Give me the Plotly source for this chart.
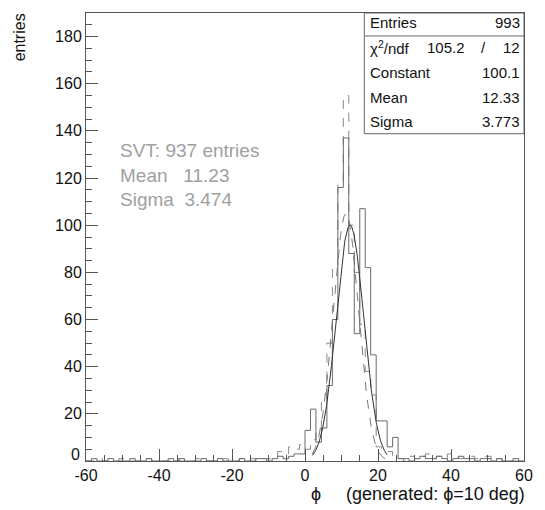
import numpy as np
import plotly.graph_objects as go

# ---------------- data ----------------
bin_lo, bin_hi, n_bins = -60.0, 60.0, 80
edges = np.linspace(bin_lo, bin_hi, n_bins + 1)

# all tracks (solid histogram), 80 bins of 1.5 deg
all_counts = (
    [0, 1, 0, 0, 1, 0, 0, 0, 1, 0, 0, 1, 0, 0, 0, 1, 0, 1, 0, 0, 0, 1, 0, 0, 1, 0, 0, 0, 1, 0, 0, 1]
    + [1, 0, 1, 2, 1, 2, 3, 3]
    + [13, 22, 8, 14, 32, 60, 116, 137, 88, 54, 107, 82, 45, 17, 17, 6, 10, 1]
    + [1, 0, 1, 2, 1, 1, 2, 1, 0, 1, 2, 1, 1, 0, 1, 1, 0, 1, 0, 0, 1, 0]
)
# SVT tracks (dashed histogram)
svt_counts = (
    [0, 0, 1, 0, 0, 0, 1, 0, 0, 0, 0, 1, 0, 0, 0, 0, 1, 0, 0, 0, 1, 0, 0, 0, 0, 1, 0, 0, 1, 0, 1, 0]
    + [1, 1, 2, 4, 3, 6, 5, 7]
    + [5, 9, 14, 26, 50, 82, 117, 155, 100, 80, 58, 38, 28, 6, 4, 4, 2]
    + [1, 0, 2, 1, 2, 3, 1, 2, 1, 3, 2, 1, 2, 2, 1, 1, 2, 0, 1, 0, 0, 0, 0]
)

fit_constant, fit_mean, fit_sigma = 100.1, 12.33, 3.773
svt_fit_constant, svt_mean, svt_sigma = 105.0, 11.23, 3.474
fit_range = (2.0, 22.5)

x_tickvals = [-60, -40, -20, 0, 20, 40, 60]
x_ticktext = ["-60", "-40", "-20", "0", "20", "40", "60"]
y_tickvals = list(range(20, 181, 20))
y_ticktext = [str(v) for v in y_tickvals]

stats_labels = ["Entries", "χ<sup>2</sup>/ndf", "Constant", "Mean", "Sigma"]
stats_values = ["993", None, "100.1", "12.33", "3.773"]
chi2, ndf = "105.2", "12"
svt_lines = ["SVT: 937 entries", "Mean   11.23", "Sigma  3.474"]

# ---------------- figure ----------------
FONT = "Liberation Sans"
fig = go.Figure()

def step(counts):
    return list(edges), list(counts) + [counts[-1]]

xs, ys = step(svt_counts)
fig.add_trace(go.Scatter(x=xs, y=ys, mode="lines", line=dict(shape="hv", color="#8a8a8a", width=1, dash="dash"),
                         hoverinfo="skip", showlegend=False))
xs, ys = step(all_counts)
fig.add_trace(go.Scatter(x=xs, y=ys, mode="lines", line=dict(shape="hv", color="#6a6a6a", width=1),
                         hoverinfo="skip", showlegend=False))

xf = np.linspace(fit_range[0], fit_range[1], 200)
fig.add_trace(go.Scatter(x=xf, y=svt_fit_constant * np.exp(-0.5 * ((xf - svt_mean) / svt_sigma) ** 2),
                         mode="lines", line=dict(color="#777777", width=1, dash="dash"),
                         hoverinfo="skip", showlegend=False))
fig.add_trace(go.Scatter(x=xf, y=fit_constant * np.exp(-0.5 * ((xf - fit_mean) / fit_sigma) ** 2),
                         mode="lines", line=dict(color="#333333", width=1),
                         hoverinfo="skip", showlegend=False))

L, R, T, B = 86, 12, 12, 49
W, H = 545, 510
pw, ph = W - L - R, H - T - B

def px_x(p):
    return (p - L) / pw

def px_y(p):
    return 1 - (p - T) / ph

# stats box
fig.add_shape(type="rect", xref="paper", yref="paper", x0=px_x(370), x1=1.0, y0=px_y(133), y1=1.0,
              line=dict(color="#666666", width=1), fillcolor="white", layer="below")
fig.add_shape(type="line", xref="paper", yref="paper", x0=px_x(370), x1=1.0, y0=px_y(35), y1=px_y(35),
              line=dict(color="#666666", width=1), layer="below")

TXT = "#111"
row_y = [22, 47, 72, 97, 121]
annos = []
for lab, val, ry in zip(stats_labels, stats_values, row_y):
    annos.append(dict(x=px_x(374), y=px_y(ry), xref="paper", yref="paper", text=lab, showarrow=False,
                      xanchor="left", yanchor="middle", font=dict(family=FONT, size=15, color=TXT)))
    if val is not None:
        annos.append(dict(x=px_x(531), y=px_y(ry), xref="paper", yref="paper", text=val, showarrow=False,
                          xanchor="right", yanchor="middle", font=dict(family=FONT, size=15, color=TXT)))
annos.append(dict(x=px_x(475), y=px_y(row_y[1]), xref="paper", yref="paper", text=chi2, showarrow=False,
                  xanchor="right", yanchor="middle", font=dict(family=FONT, size=15, color=TXT)))
annos.append(dict(x=px_x(492), y=px_y(row_y[1]), xref="paper", yref="paper", text="/", showarrow=False,
                  xanchor="center", yanchor="middle", font=dict(family=FONT, size=15, color=TXT)))
annos.append(dict(x=px_x(531), y=px_y(row_y[1]), xref="paper", yref="paper", text=ndf, showarrow=False,
                  xanchor="right", yanchor="middle", font=dict(family=FONT, size=15, color=TXT)))

for line, ry in zip(svt_lines, [150, 175, 199]):
    annos.append(dict(x=px_x(119), y=px_y(ry), xref="paper", yref="paper", text=line, showarrow=False,
                      xanchor="left", yanchor="middle", font=dict(family=FONT, size=19, color="#a0a0a0")))

annos.append(dict(x=px_x(18), y=px_y(10), xref="paper", yref="paper", xanchor="center", yanchor="top",
                  text="entries", textangle=-90, showarrow=False, font=dict(family=FONT, size=16, color=TXT)))
annos.append(dict(x=px_x(536), y=px_y(494), xref="paper", yref="paper", xanchor="right", yanchor="middle",
                  text="ϕ     (generated: ϕ=10 deg)", showarrow=False, font=dict(family=FONT, size=18, color=TXT)))
# y-axis "0" label, raised above the corner as in the original
annos.append(dict(x=px_x(82), y=px_y(454), xref="paper", yref="paper", xanchor="right", yanchor="middle",
                  text="0", showarrow=False, font=dict(family=FONT, size=16, color=TXT)))

AX = "#555"
fig.update_layout(
    width=W, height=H, margin=dict(l=L, r=R, t=T, b=B),
    paper_bgcolor="white", plot_bgcolor="white",
    annotations=annos, showlegend=False,
    xaxis=dict(range=[bin_lo, bin_hi], tickvals=x_tickvals, ticktext=x_ticktext,
               ticks="inside", ticklen=12, tickcolor=AX, showgrid=False, zeroline=False,
               showline=True, linecolor=AX, mirror=True, linewidth=1,
               minor=dict(dtick=5, ticks="inside", ticklen=6, tickcolor=AX),
               tickfont=dict(family=FONT, size=16, color=TXT)),
    yaxis=dict(range=[0, 190], tickvals=y_tickvals, ticktext=y_ticktext,
               ticks="inside", ticklen=12, tickcolor=AX, showgrid=False, zeroline=False,
               showline=True, linecolor=AX, mirror=True, linewidth=1,
               minor=dict(tickvals=list(range(5, 191, 5)), ticks="inside", ticklen=6, tickcolor=AX),
               tickfont=dict(family=FONT, size=16, color=TXT)),
)

fig.write_html("out.html")
